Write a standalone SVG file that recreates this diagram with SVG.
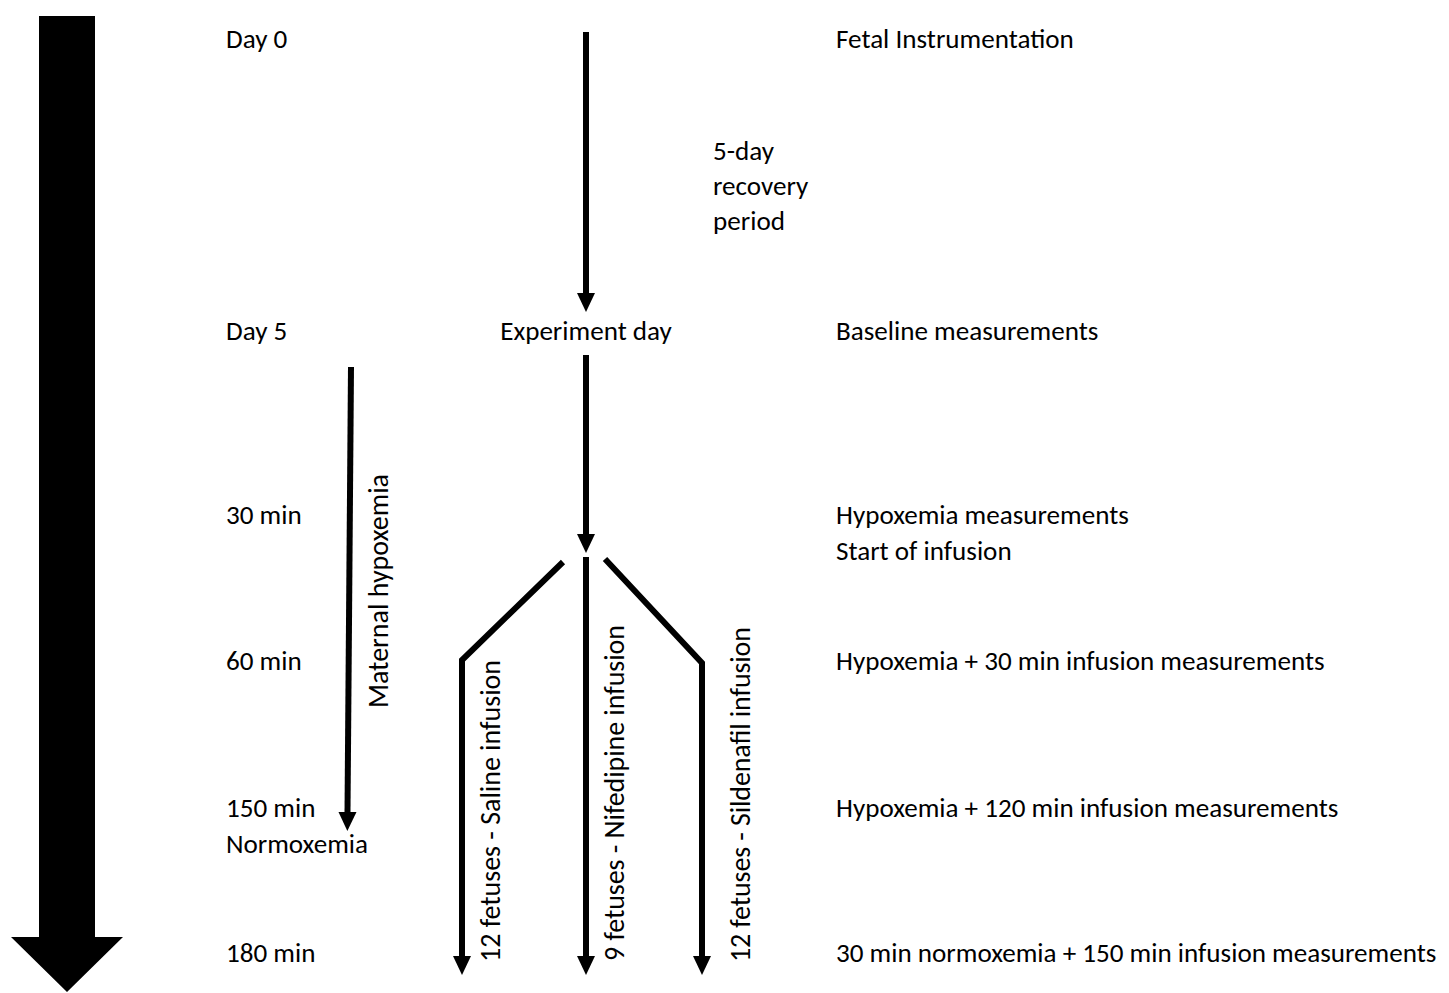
<svg xmlns="http://www.w3.org/2000/svg" width="1449" height="993" viewBox="0 0 1449 993">
<style>
text{font-family:Carlito,Lato,"Liberation Sans",sans-serif;font-size:27.1px;fill:#000}
.rot{font-size:28px}
.ln{fill:none;stroke:#000;stroke-width:6;stroke-linejoin:miter;marker-end:url(#ah)}
</style>
<defs>
<marker id="ah" markerUnits="userSpaceOnUse" markerWidth="22" markerHeight="22" refX="0" refY="9" orient="auto" overflow="visible">
<path d="M0,0 L19,9 L0,18 Z" fill="#000"/>
</marker>
</defs>
<rect width="1449" height="993" fill="#fff"/>
<g id="timeline">
<polygon points="39,16 95,16 95,937 123,937 67,992 11,937 39,937" fill="#000"/>
</g>
<g id="connectors">
<path class="ln" d="M586,32 V293"/>
<path class="ln" d="M586,355 V534"/>
<path class="ln" d="M563,562 L462,660 V956"/>
<path class="ln" d="M586,557 V956"/>
<path class="ln" d="M605,559 L702,663 V956"/>
<path class="ln" d="M351,367 L347.5,812"/>
</g>
<g id="times">
<text x="226" y="48">Day 0</text>
<text x="226" y="340">Day 5</text>
<text x="226" y="524">30 min</text>
<text x="226" y="670">60 min</text>
<text x="226" y="817">150 min</text>
<text x="226" y="853">Normoxemia</text>
<text x="226" y="962">180 min</text>
</g>
<g id="recovery">
<text x="713" y="160">5-day</text>
<text x="713" y="195">recovery</text>
<text x="713" y="230">period</text>
</g>
<g id="experiment-day">
<text x="586" y="340" text-anchor="middle">Experiment day</text>
</g>
<g id="maternal-hypoxemia">
<text class="rot" transform="translate(388,708) rotate(-90)" textLength="234" lengthAdjust="spacing">Maternal hypoxemia</text>
</g>
<g id="saline">
<text class="rot" transform="translate(500,962) rotate(-90)" textLength="302" lengthAdjust="spacing">12 fetuses - Saline infusion</text>
</g>
<g id="nifedipine">
<text class="rot" transform="translate(624,961) rotate(-90)" textLength="336" lengthAdjust="spacing">9 fetuses - Nifedipine infusion</text>
</g>
<g id="sildenafil">
<text class="rot" transform="translate(750,962) rotate(-90)" textLength="335" lengthAdjust="spacing">12 fetuses - Sildenafil infusion</text>
</g>
<g id="measurements">
<text x="836" y="48">Fetal Instrumentation</text>
<text x="836" y="340">Baseline measurements</text>
<text x="836" y="524">Hypoxemia measurements</text>
<text x="836" y="560">Start of infusion</text>
<text x="836" y="670">Hypoxemia + 30 min infusion measurements</text>
<text x="836" y="817">Hypoxemia + 120 min infusion measurements</text>
<text x="836" y="962">30 min normoxemia + 150 min infusion measurements</text>
</g>
</svg>
